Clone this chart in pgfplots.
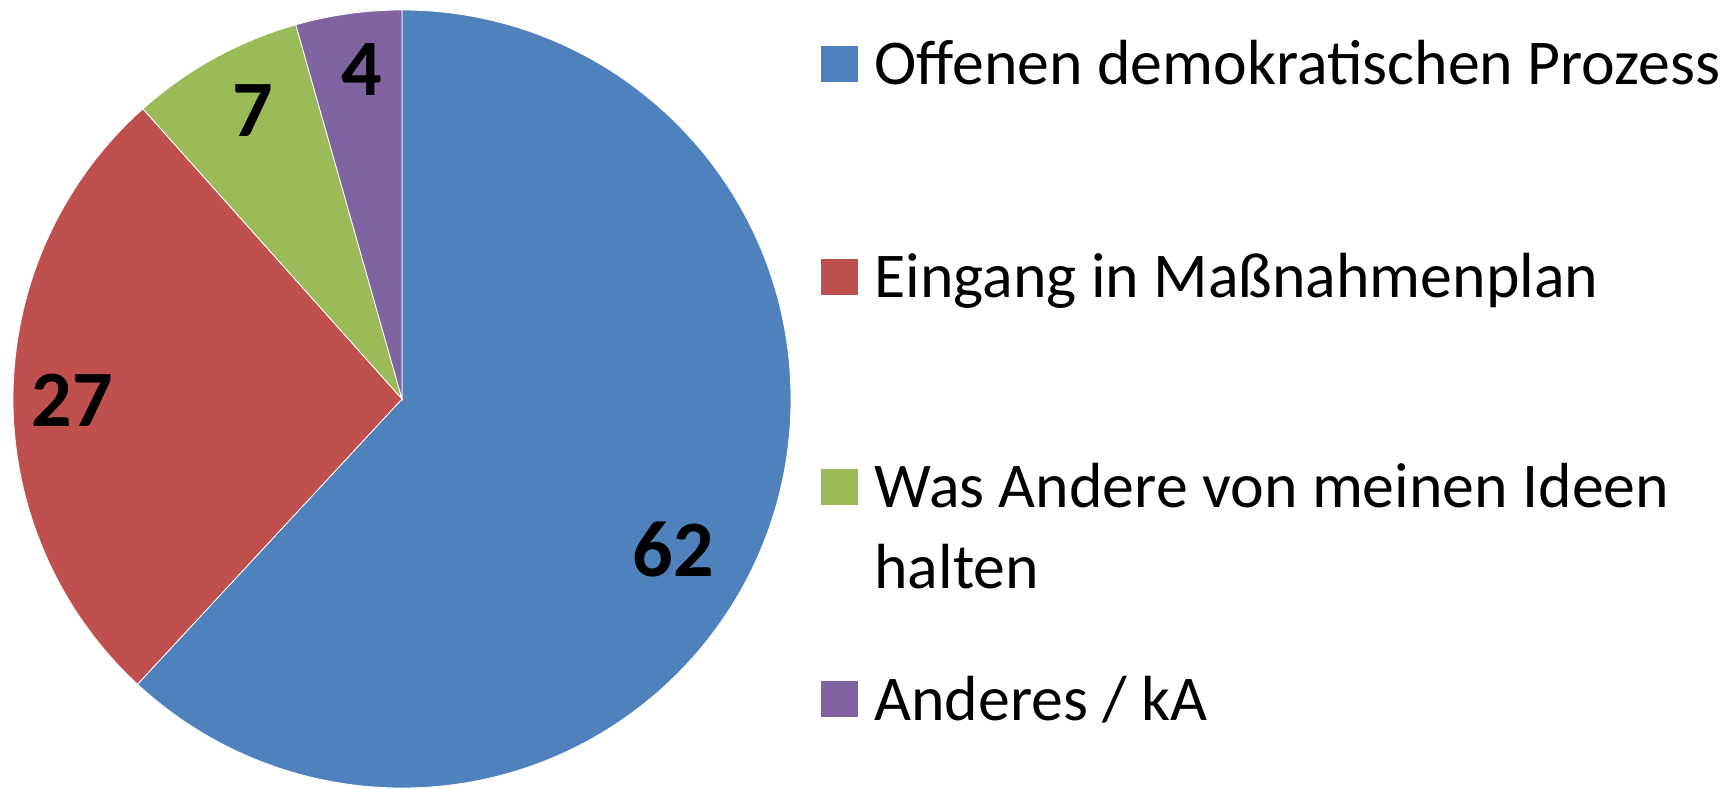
\documentclass[border=0pt]{standalone}
\usepackage{pgfplots}
\pgfplotsset{compat=1.18}
\usepackage{fontspec}
\setmainfont{Carlito}
\definecolor{cBlue}{HTML}{4F81BD}
\definecolor{cRed}{HTML}{C0504D}
\definecolor{cGreen}{HTML}{9BBB59}
\definecolor{cPurple}{HTML}{8064A2}
% data (shares in percent; labels are rounded)
\def\vA{61.9}\def\vB{26.5}\def\vC{7.2}\def\vD{4.4}
\pgfmathsetmacro\aA{90}
\pgfmathsetmacro\aB{\aA-3.6*\vA}
\pgfmathsetmacro\aC{\aB-3.6*\vB}
\pgfmathsetmacro\aD{\aC-3.6*\vC}
\pgfmathsetmacro\aE{\aD-3.6*\vD}
\begin{document}
\begin{tikzpicture}
\begin{axis}[x=0.5pt,y=0.5pt,xmin=0,xmax=1735,ymin=0,ymax=788,hide axis,clip=false]
\coordinate (SW) at (axis cs:0,0);
\coordinate (NE) at (axis cs:1735,788);
% pie slices: centre (402,389), radius 389 units = 194.5pt
\fill[cBlue,draw=white,line width=0.4pt] (axis cs:402,389) -- ++(\aA:194.5pt) arc[start angle=\aA,end angle=\aB,radius=194.5pt] -- cycle;
\fill[cRed,draw=white,line width=0.4pt] (axis cs:402,389) -- ++(\aB:194.5pt) arc[start angle=\aB,end angle=\aC,radius=194.5pt] -- cycle;
\fill[cGreen,draw=white,line width=0.4pt] (axis cs:402,389) -- ++(\aC:194.5pt) arc[start angle=\aC,end angle=\aD,radius=194.5pt] -- cycle;
\fill[cPurple,draw=white,line width=0.4pt] (axis cs:402,389) -- ++(\aD:194.5pt) arc[start angle=\aD,end angle=\aE,radius=194.5pt] -- cycle;
% data labels
\node[inner sep=0,font=\fontsize{40}{48}\selectfont\bfseries] at (axis cs:673,239) {62};
\node[inner sep=0,font=\fontsize{40}{48}\selectfont\bfseries] at (axis cs:72,388) {27};
\node[inner sep=0,font=\fontsize{40}{48}\selectfont\bfseries] at (axis cs:253,677) {7};
\node[inner sep=0,font=\fontsize{40}{48}\selectfont\bfseries] at (axis cs:362,718) {4};
% legend
\fill[cBlue] (axis cs:821,706) rectangle (axis cs:858,742);
\fill[cRed] (axis cs:821,493) rectangle (axis cs:858,529);
\fill[cGreen] (axis cs:821,283) rectangle (axis cs:858,319);
\fill[cPurple] (axis cs:821,71) rectangle (axis cs:858,107);
\node[anchor=base west,inner sep=0,font=\fontsize{31.9}{40}\selectfont] at (axis cs:874,703) {Offenen demokratischen Prozess};
\node[anchor=base west,inner sep=0,font=\fontsize{31.9}{40}\selectfont] at (axis cs:874,490) {Eingang in Maßnahmenplan};
\node[anchor=base west,inner sep=0,font=\fontsize{31.9}{40}\selectfont] at (axis cs:874,280) {Was Andere von meinen Ideen};
\node[anchor=base west,inner sep=0,font=\fontsize{31.9}{40}\selectfont] at (axis cs:874,200) {halten};
\node[anchor=base west,inner sep=0,font=\fontsize{31.9}{40}\selectfont] at (axis cs:874,68) {Anderes / kA};
\end{axis}
\pgfresetboundingbox
\useasboundingbox (SW) rectangle (NE);
\end{tikzpicture}
\end{document}
